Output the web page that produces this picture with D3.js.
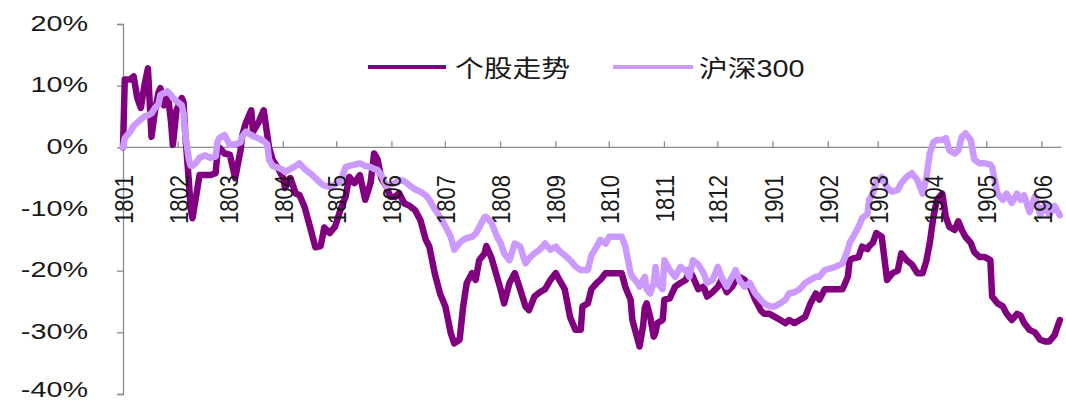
<!DOCTYPE html>
<html>
<head>
<meta charset="utf-8">
<script src="https://cdn.jsdelivr.net/npm/d3@7"></script>
<style>
  html, body { margin: 0; padding: 0; background: #fff; }
  svg { display: block; }
</style>
</head>
<body>
<svg id="chart" width="1066" height="403"></svg>
<script>
// Relative performance since 2018-01-01: the stock vs. the CSI 300 index (%)
const dates = [
  "2018-01-01","2018-01-02","2018-01-05","2018-01-07","2018-01-09","2018-01-11","2018-01-13","2018-01-15",
  "2018-01-17","2018-01-19","2018-01-21","2018-01-22","2018-01-24","2018-01-26","2018-01-28","2018-01-29",
  "2018-01-31","2018-02-03","2018-02-04","2018-02-05","2018-02-07","2018-02-08","2018-02-09","2018-02-11",
  "2018-02-13","2018-02-16","2018-02-19","2018-02-22","2018-02-23","2018-02-24","2018-02-27","2018-03-02",
  "2018-03-05","2018-03-08","2018-03-09","2018-03-11","2018-03-14","2018-03-15","2018-03-18","2018-03-21",
  "2018-03-23","2018-03-24","2018-03-26","2018-03-29","2018-04-01","2018-04-02","2018-04-05","2018-04-08",
  "2018-04-10","2018-04-13","2018-04-16","2018-04-19","2018-04-22","2018-04-24","2018-04-27","2018-04-30",
  "2018-05-03","2018-05-06","2018-05-08","2018-05-11","2018-05-14","2018-05-17","2018-05-20","2018-05-22",
  "2018-05-24","2018-05-26","2018-05-29","2018-05-31","2018-06-03","2018-06-05","2018-06-08","2018-06-11",
  "2018-06-14","2018-06-17","2018-06-20","2018-06-22","2018-06-25","2018-06-28","2018-07-01","2018-07-04",
  "2018-07-06","2018-07-09","2018-07-11","2018-07-13","2018-07-16","2018-07-18","2018-07-20","2018-07-23",
  "2018-07-24","2018-07-27","2018-07-30","2018-08-01","2018-08-03","2018-08-06","2018-08-09","2018-08-12",
  "2018-08-15","2018-08-17","2018-08-20","2018-08-23","2018-08-26","2018-08-29","2018-09-01","2018-09-03",
  "2018-09-06","2018-09-09","2018-09-12","2018-09-15","2018-09-16","2018-09-19","2018-09-21","2018-09-24",
  "2018-09-26","2018-09-29","2018-10-01","2018-10-04","2018-10-08","2018-10-10","2018-10-13","2018-10-14",
  "2018-10-17","2018-10-18","2018-10-20","2018-10-21","2018-10-22","2018-10-24","2018-10-26","2018-10-27",
  "2018-10-28","2018-10-31","2018-11-01","2018-11-04","2018-11-07","2018-11-10","2018-11-13","2018-11-15",
  "2018-11-17","2018-11-20","2018-11-23","2018-11-25","2018-11-28","2018-12-01","2018-12-03","2018-12-06",
  "2018-12-09","2018-12-11","2018-12-13","2018-12-16","2018-12-19","2018-12-22","2018-12-25","2018-12-27",
  "2018-12-30","2019-01-02","2019-01-05","2019-01-08","2019-01-10","2019-01-13","2019-01-16","2019-01-19",
  "2019-01-22","2019-01-25","2019-01-27","2019-01-30","2019-02-05","2019-02-09","2019-02-12","2019-02-13",
  "2019-02-15","2019-02-18","2019-02-20","2019-02-23","2019-02-24","2019-02-26","2019-02-28","2019-03-03",
  "2019-03-06","2019-03-09","2019-03-12","2019-03-14","2019-03-17","2019-03-20","2019-03-23","2019-03-26",
  "2019-03-28","2019-03-30","2019-04-01","2019-04-03","2019-04-06","2019-04-08","2019-04-10","2019-04-13",
  "2019-04-15","2019-04-17","2019-04-19","2019-04-22","2019-04-24","2019-04-27","2019-04-30","2019-05-03",
  "2019-05-04","2019-05-07","2019-05-10","2019-05-12","2019-05-15","2019-05-18","2019-05-20","2019-05-22",
  "2019-05-25","2019-05-28","2019-05-31","2019-06-03","2019-06-05","2019-06-08","2019-06-11"
];

// 个股走势
const stock = [
  0, 11, 11, 11.5, 8, 6.4, 10, 12.8,
  1.7, 6, 9, 9.6, 6.8, 9, 4, 0.4,
  6, 8, 7.3, 2, -5.6, -10, -11.5, -8,
  -4.5, -4.5, -4.5, -4.2, -1, 0, -1, -1.2,
  -5, -0.5, 2, 4, 6, 2.5, 4, 6,
  2, 0, -2, -3.4, -5, -6.6, -5, -7.5,
  -7.7, -9.7, -12.9, -16.2, -16, -13, -13.9, -12.9,
  -10.2, -8, -4.8, -5.8, -4.5, -8.5, -5.8, -1,
  -2, -5, -6.4, -8, -8, -7.4, -9.1, -9.5,
  -10.2, -11.8, -15, -16.1, -20.4, -23.7, -25.8, -30.1,
  -31.8, -31.2, -25.8, -22, -20.4, -21.5, -18.3, -17.2,
  -16, -18, -21, -23, -25.3, -22, -20.4, -23,
  -25.8, -26.4, -24.2, -23.5, -23, -21.5, -20.4, -21.5,
  -23, -27.5, -29.6, -29.6, -25.8, -25.3, -23, -22,
  -21.5, -20.4, -20.4, -20.4, -20.4, -22.6, -24.7, -28,
  -31.2, -32.3, -29, -26, -25.3, -27.5, -30.7, -30,
  -28.5, -28, -24.7, -24.5, -22.6, -22, -21.5, -19.9,
  -21, -23, -22.6, -24.2, -23.5, -22.6, -21.5, -23.5,
  -22.6, -21.5, -21, -21.5, -22.6, -24.7, -26.4, -27,
  -27, -27.5, -28, -28.5, -28, -28.5, -28, -27.5,
  -25.3, -23.7, -24.7, -23, -23, -23, -21, -18.3,
  -18, -17.8, -16.1, -16.5, -16, -15.5, -13.9, -14.5,
  -21.5, -20.4, -20, -17.2, -18.3, -19, -20.4, -20.4,
  -18.5, -15.5, -11.3, -8.5, -7.5, -11.3, -12.9, -13.4,
  -12, -13.4, -14.5, -15.5, -17, -17.8, -17.8, -18.3,
  -24.2, -25.3, -25.8, -26.9, -28, -27, -27.3, -28.5,
  -29.6, -30, -31.2, -31.5, -31.5, -30.5, -28
];

// 沪深300
const hs300 = [
  0, 1.5, 2.5, 3.5, 4, 4.5, 5, 5.2,
  5.5, 6.4, 7, 8.5, 8.8, 9, 8.5, 8,
  7.5, 6.8, 5.5, 2, -2, -3, -3, -2.5,
  -1.7, -1.3, -1.7, -1.5, 0.8, 1.5, 2, 0.4,
  0.5, 0.8, 1.8, 2.5, 2, 1.8, 1.5, 1,
  0.5, -2, -3, -3.3, -3.7, -4, -3.5, -3,
  -2.6, -3.5, -4.2, -5, -5.8, -6.2, -6.4, -6,
  -5.6, -3.2, -3, -2.8, -2.6, -3, -3.2, -3.5,
  -3.7, -4.5, -6.4, -6, -5.8, -5.3, -5.5, -6.2,
  -6.8, -7.2, -7.8, -8.5, -10, -11.3, -12.8, -14.5,
  -16.6, -15.5, -15, -14.7, -14.5, -14, -13, -11.3,
  -11.3, -12.3, -14.5, -15.5, -17.2, -18.3, -15.6, -16.1,
  -18.8, -18, -17.2, -16.6, -15.6, -16.6, -16.1, -16.8,
  -17.5, -18.3, -19.3, -19.9, -19.9, -19.9, -17.5, -16.1,
  -15, -15.6, -14.5, -14.5, -14.5, -16, -20.4, -21,
  -22, -22.6, -21.5, -21, -23, -23.7, -22, -19.4,
  -22, -23, -18.3, -19.9, -21, -19.4, -20, -21,
  -18.3, -19, -20.4, -22, -21.5, -19.4, -21, -22.6,
  -21, -19.9, -21.5, -22.6, -22, -23.7, -24.7, -25.3,
  -25.8, -25.8, -25.3, -24.7, -23.7, -23.5, -23, -22,
  -21.5, -21, -21, -19.9, -19.4, -18.8, -16.6, -15.5,
  -14.5, -12.9, -11.5, -10.8, -8.5, -7.5, -5.5, -4.8,
  -6.5, -7.2, -6.9, -5.8, -4.8, -4.2, -5.3, -7.5,
  -5, -1, 0.8, 1.2, 1.2, 1.5, -0.5, -1,
  -0.5, 1.7, 2.3, 1.2, -2, -2.6, -2.6, -2.8,
  -3.2, -7.5, -8.5, -7.5, -9, -7.5, -8.5, -7.8,
  -10.5, -8, -11, -9, -11, -9.5, -11
];

const yTicks = [20, 10, 0, -10, -20, -30, -40];
const monthTicks = [
  "2018-01-01","2018-02-01","2018-03-01","2018-04-01","2018-05-01","2018-06-01",
  "2018-07-01","2018-08-01","2018-09-01","2018-10-01","2018-11-01","2018-12-01",
  "2019-01-01","2019-02-01","2019-03-01","2019-04-01","2019-05-01","2019-06-01"
];
const seriesNames = ["个股走势", "沪深300"];
const seriesColors = ["#800080", "#CC99FF"];

const parse = d3.timeParse("%Y-%m-%d");
const fmtMonth = d3.timeFormat("%y%m");

const svg = d3.select("#chart");
const axisColor = "#8c8c8c";
const numFont = "'Liberation Sans', Arial, sans-serif";
const cjkFont = "'Liberation Sans', 'Noto Sans CJK SC', sans-serif";

// scales
const x = d3.scaleTime()
  .domain([parse("2018-01-01"), parse("2019-06-01")])
  .range([123, 1042]);
const xEnd = parse("2019-06-12");
const y = d3.scaleLinear().domain([-40, 20]).range([394, 24]);

// y axis
const yAxis = d3.axisLeft(y).tickValues(yTicks).tickSize(6).tickFormat("");
const gy = svg.append("g").attr("transform", "translate(123,0)").call(yAxis);
gy.select(".domain").attr("stroke", axisColor).attr("stroke-width", 1.3);
gy.selectAll(".tick line").attr("stroke", axisColor).attr("stroke-width", 1.3);

// tick labels; the lowest one is kept clear of the bottom edge
svg.append("g").selectAll("text")
  .data(yTicks)
  .join("text")
  .attr("transform", d => `translate(88,${Math.min(y(d) - 1.5, 389)}) scale(1.28,1)`)
  .attr("text-anchor", "end")
  .attr("dy", "0.36em")
  .attr("font-family", numFont)
  .attr("font-size", 22.5)
  .attr("fill", "#1a1a1a")
  .text(d => d + "%");

// x axis along the zero line
const tickDates = monthTicks.map(parse);
const gx = svg.append("g").attr("transform", `translate(0,${y(0)})`);
gx.append("line")
  .attr("x1", x(tickDates[0])).attr("x2", x(xEnd))
  .attr("stroke", axisColor).attr("stroke-width", 1.3);
gx.selectAll("line.tick")
  .data(tickDates.slice(1))
  .join("line")
  .attr("class", "tick")
  .attr("x1", d => x(d)).attr("x2", d => x(d))
  .attr("y1", 0).attr("y2", -6)
  .attr("stroke", axisColor).attr("stroke-width", 1.3);

// series
const rows = dates.map((d, i) => ({ date: parse(d), v: [stock[i], hs300[i]] }));
const plot = svg.append("g");
[0, 1].forEach(k => {
  const line = d3.line().x(d => x(d.date)).y(d => y(d.v[k]));
  plot.append("path")
    .datum(rows)
    .attr("d", line)
    .attr("fill", "none")
    .attr("stroke", seriesColors[k])
    .attr("stroke-width", 6.5)
    .attr("stroke-linejoin", "round")
    .attr("stroke-linecap", "round");
});

// rotated month labels
svg.append("g").selectAll("text")
  .data(tickDates)
  .join("text")
  .attr("transform", d => `translate(${x(d)},175) scale(1.2,1) rotate(-90)`)
  .attr("text-anchor", "end")
  .attr("dy", "0.36em")
  .attr("font-family", numFont)
  .attr("font-size", 22)
  .attr("fill", "#1a1a1a")
  .text(d => fmtMonth(d));

// legend
const legend = svg.append("g");
const legendItems = [
  { x1: 368, x2: 446, tx: 455 },
  { x1: 613, x2: 693, tx: 699 }
];
legendItems.forEach((it, k) => {
  legend.append("line")
    .attr("x1", it.x1).attr("x2", it.x2)
    .attr("y1", 67).attr("y2", 67)
    .attr("stroke", seriesColors[k]).attr("stroke-width", 4);
  legend.append("text")
    .attr("transform", `translate(${it.tx},68) scale(1.2,1)`)
    .attr("dy", "0.36em")
    .attr("font-family", cjkFont)
    .attr("font-size", 24)
    .attr("fill", "#1a1a1a")
    .text(seriesNames[k]);
});
</script>
</body>
</html>
